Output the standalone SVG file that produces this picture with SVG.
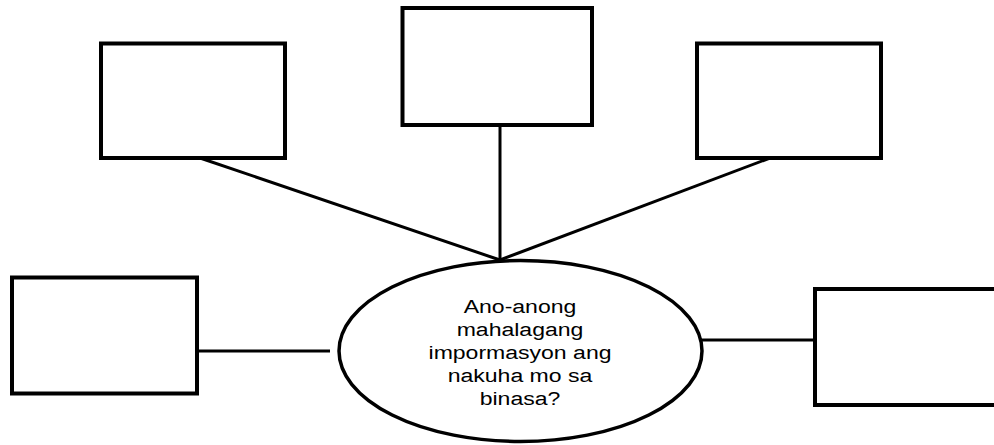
<svg xmlns="http://www.w3.org/2000/svg" width="994" height="445" viewBox="0 0 994 445">
  <style>
    .box { fill: #ffffff; stroke: #000000; stroke-width: 4; }
    .conn { stroke: #000000; stroke-width: 3; fill: none; }
    .ell { fill: #ffffff; stroke: #000000; stroke-width: 3.5; }
    .lbl { font-family: "Liberation Sans", Arial, sans-serif; font-size: 18px; fill: #000000; text-anchor: middle; }
  </style>
  <rect x="0" y="0" width="994" height="445" fill="#ffffff"/>
  <g id="connectors">
    <line class="conn" x1="200" y1="158" x2="500" y2="260"/>
    <line class="conn" x1="500" y1="125" x2="500" y2="260"/>
    <line class="conn" x1="770" y1="158" x2="500" y2="260"/>
    <line class="conn" x1="197" y1="351" x2="330" y2="351"/>
    <line class="conn" x1="700" y1="340" x2="815" y2="340"/>
  </g>
  <g id="box-top-left">
    <rect class="box" x="101" y="43.5" width="184" height="114.5"/>
  </g>
  <g id="box-top-middle">
    <rect class="box" x="402.5" y="8" width="189.5" height="117"/>
  </g>
  <g id="box-top-right">
    <rect class="box" x="697" y="43.5" width="184" height="114.5"/>
  </g>
  <g id="box-left">
    <rect class="box" x="12" y="277.5" width="185" height="116"/>
  </g>
  <g id="box-right">
    <rect class="box" x="815" y="289" width="200" height="116"/>
  </g>
  <g id="center">
    <ellipse class="ell" cx="520.5" cy="351" rx="181.5" ry="90.5"/>
    <g transform="translate(520,0) scale(1.28,1)">
      <text class="lbl" x="0" y="313">Ano-anong</text>
      <text class="lbl" x="0" y="336">mahalagang</text>
      <text class="lbl" x="0" y="359">impormasyon ang</text>
      <text class="lbl" x="0" y="382">nakuha mo sa</text>
      <text class="lbl" x="0" y="405">binasa?</text>
    </g>
  </g>
</svg>
